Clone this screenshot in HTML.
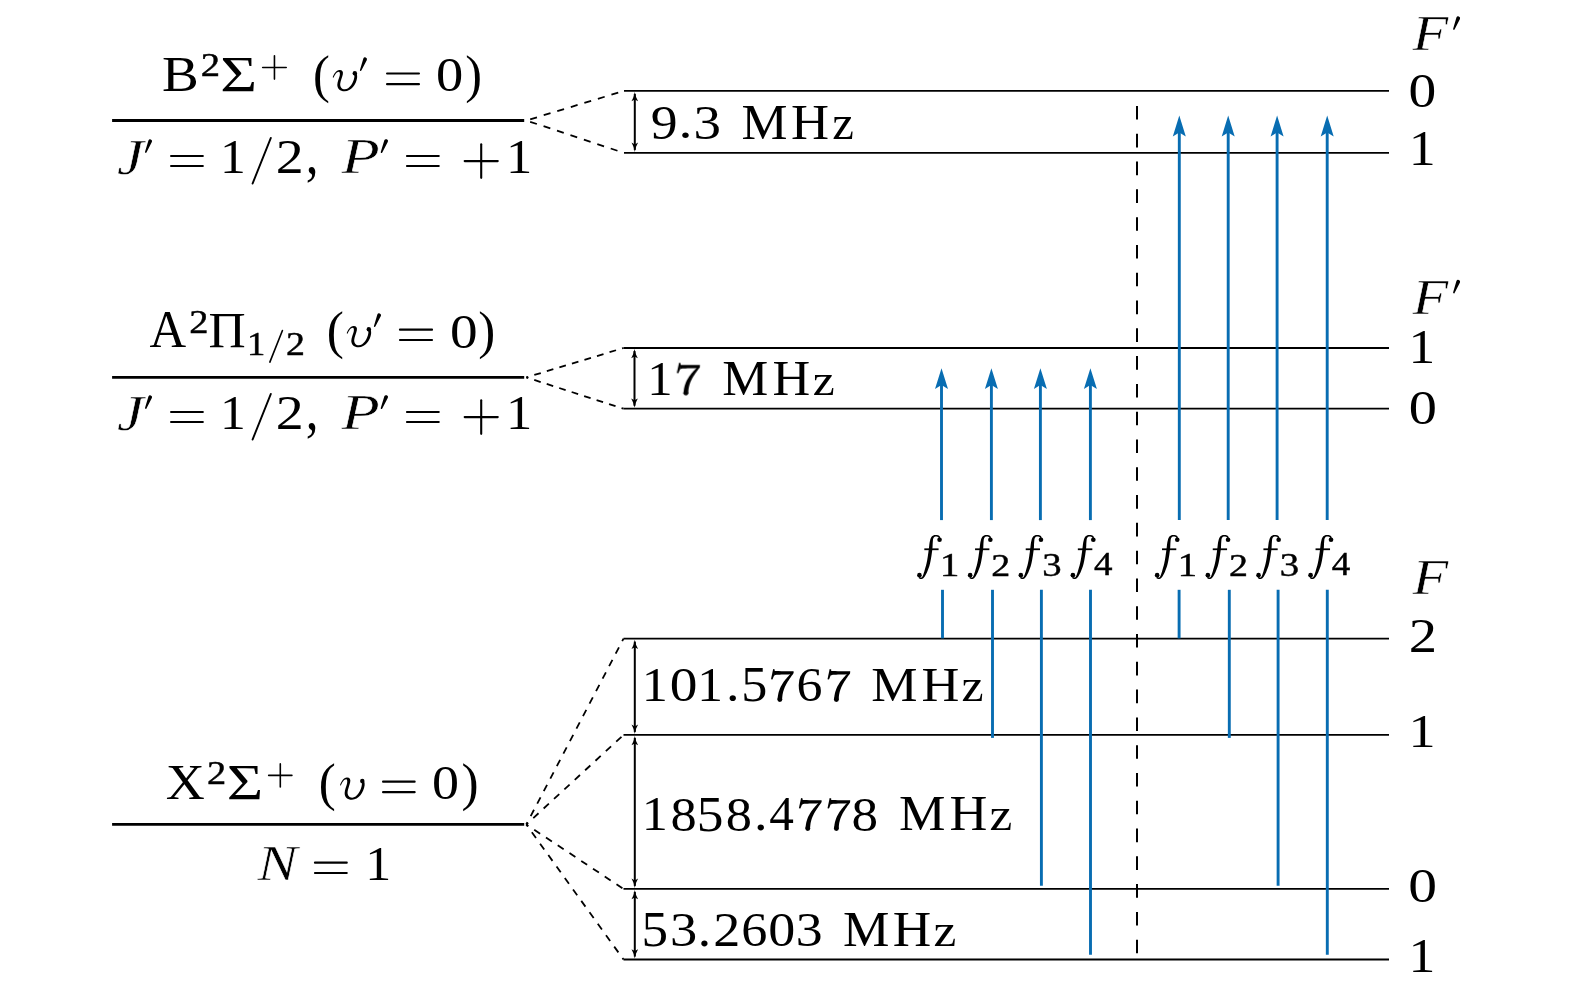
<!DOCTYPE html>
<html><head><meta charset="utf-8"><style>
html,body{margin:0;padding:0;background:#fff;width:1575px;height:994px;overflow:hidden}
svg{display:block}
text.r{font-family:"Liberation Serif",serif;font-style:normal}
text.s{stroke:#000;stroke-width:0.45px}
text.i{font-family:"Liberation Serif",serif;font-style:italic;stroke:#fff;stroke-width:0.5px}
</style></head><body>
<svg width="1575" height="994" viewBox="0 0 1575 994">
<rect width="1575" height="994" fill="#fff"/>
<line x1="624.00" y1="90.90" x2="1389.00" y2="90.90" stroke="#000" stroke-width="1.80"/>
<line x1="624.00" y1="152.90" x2="1389.00" y2="152.90" stroke="#000" stroke-width="1.80"/>
<line x1="623.50" y1="348.00" x2="1389.00" y2="348.00" stroke="#000" stroke-width="1.80"/>
<line x1="623.50" y1="408.70" x2="1389.00" y2="408.70" stroke="#000" stroke-width="1.80"/>
<line x1="623.50" y1="638.70" x2="1389.00" y2="638.70" stroke="#000" stroke-width="1.80"/>
<line x1="623.50" y1="734.90" x2="1389.00" y2="734.90" stroke="#000" stroke-width="1.80"/>
<line x1="623.50" y1="888.90" x2="1389.00" y2="888.90" stroke="#000" stroke-width="1.80"/>
<line x1="623.50" y1="959.50" x2="1389.00" y2="959.50" stroke="#000" stroke-width="1.80"/>
<line x1="112.10" y1="120.50" x2="524.20" y2="120.50" stroke="#000" stroke-width="2.90"/>
<line x1="112.10" y1="377.40" x2="524.20" y2="377.40" stroke="#000" stroke-width="2.90"/>
<line x1="112.10" y1="824.40" x2="524.20" y2="824.40" stroke="#000" stroke-width="2.90"/>
<line x1="526.30" y1="120.50" x2="624.00" y2="90.90" stroke="#000" stroke-width="1.80" stroke-dasharray="7.1 7.05" stroke-dashoffset="10.10"/>
<line x1="526.30" y1="120.50" x2="624.00" y2="152.90" stroke="#000" stroke-width="1.80" stroke-dasharray="7.1 7.05" stroke-dashoffset="10.10"/>
<line x1="526.30" y1="377.40" x2="623.50" y2="348.00" stroke="#000" stroke-width="1.80" stroke-dasharray="6.8 6.3" stroke-dashoffset="4.75"/>
<line x1="526.30" y1="377.40" x2="623.50" y2="408.70" stroke="#000" stroke-width="1.80" stroke-dasharray="6.8 6.3" stroke-dashoffset="4.75"/>
<line x1="526.30" y1="824.50" x2="623.50" y2="638.70" stroke="#000" stroke-width="1.80" stroke-dasharray="7.1 7.0" stroke-dashoffset="4.60"/>
<line x1="526.30" y1="824.50" x2="623.50" y2="734.90" stroke="#000" stroke-width="1.80" stroke-dasharray="7.1 7.0" stroke-dashoffset="4.60"/>
<line x1="526.30" y1="824.50" x2="623.50" y2="888.90" stroke="#000" stroke-width="1.80" stroke-dasharray="7.1 7.0" stroke-dashoffset="4.60"/>
<line x1="526.30" y1="824.50" x2="623.50" y2="959.50" stroke="#000" stroke-width="1.80" stroke-dasharray="7.1 7.0" stroke-dashoffset="4.60"/>
<line x1="1137.00" y1="106.00" x2="1137.00" y2="953.50" stroke="#000" stroke-width="2.00" stroke-dasharray="13.6 14.19"/>
<line x1="634.80" y1="93.90" x2="634.80" y2="149.90" stroke="#000" stroke-width="2.00"/>
<path d="M634.80 91.90 Q634.00 97.02 631.50 101.20 L634.80 99.40 L638.10 101.20 Q635.60 97.02 634.80 91.90 Z" fill="#000"/>
<path d="M634.80 151.90 Q634.00 146.78 631.50 142.60 L634.80 144.40 L638.10 142.60 Q635.60 146.78 634.80 151.90 Z" fill="#000"/>
<line x1="634.50" y1="351.00" x2="634.50" y2="405.70" stroke="#000" stroke-width="2.00"/>
<path d="M634.50 349.00 Q633.70 354.12 631.20 358.30 L634.50 356.50 L637.80 358.30 Q635.30 354.12 634.50 349.00 Z" fill="#000"/>
<path d="M634.50 407.70 Q633.70 402.58 631.20 398.40 L634.50 400.20 L637.80 398.40 Q635.30 402.58 634.50 407.70 Z" fill="#000"/>
<line x1="634.80" y1="641.70" x2="634.80" y2="731.90" stroke="#000" stroke-width="2.00"/>
<path d="M634.80 639.70 Q634.00 644.82 631.50 649.00 L634.80 647.20 L638.10 649.00 Q635.60 644.82 634.80 639.70 Z" fill="#000"/>
<path d="M634.80 733.90 Q634.00 728.78 631.50 724.60 L634.80 726.40 L638.10 724.60 Q635.60 728.78 634.80 733.90 Z" fill="#000"/>
<line x1="634.80" y1="737.90" x2="634.80" y2="885.90" stroke="#000" stroke-width="2.00"/>
<path d="M634.80 735.90 Q634.00 741.01 631.50 745.20 L634.80 743.40 L638.10 745.20 Q635.60 741.01 634.80 735.90 Z" fill="#000"/>
<path d="M634.80 887.90 Q634.00 882.78 631.50 878.60 L634.80 880.40 L638.10 878.60 Q635.60 882.78 634.80 887.90 Z" fill="#000"/>
<line x1="634.80" y1="891.90" x2="634.80" y2="956.50" stroke="#000" stroke-width="2.00"/>
<path d="M634.80 889.90 Q634.00 895.01 631.50 899.20 L634.80 897.40 L638.10 899.20 Q635.60 895.01 634.80 889.90 Z" fill="#000"/>
<path d="M634.80 958.50 Q634.00 953.38 631.50 949.20 L634.80 951.00 L638.10 949.20 Q635.60 953.38 634.80 958.50 Z" fill="#000"/>
<line x1="941.50" y1="520.10" x2="941.50" y2="382.20" stroke="#086db2" stroke-width="2.90"/>
<path d="M941.50 368.20 L935.00 389.10 L941.50 385.10 L948.00 389.10 Z" fill="#086db2"/>
<line x1="942.50" y1="589.80" x2="942.50" y2="638.40" stroke="#086db2" stroke-width="2.90"/>
<line x1="991.40" y1="520.10" x2="991.40" y2="382.20" stroke="#086db2" stroke-width="2.90"/>
<path d="M991.40 368.20 L984.90 389.10 L991.40 385.10 L997.90 389.10 Z" fill="#086db2"/>
<line x1="992.50" y1="589.80" x2="992.50" y2="737.90" stroke="#086db2" stroke-width="2.90"/>
<line x1="1040.40" y1="520.10" x2="1040.40" y2="382.20" stroke="#086db2" stroke-width="2.90"/>
<path d="M1040.40 368.20 L1033.90 389.10 L1040.40 385.10 L1046.90 389.10 Z" fill="#086db2"/>
<line x1="1041.40" y1="589.80" x2="1041.40" y2="885.80" stroke="#086db2" stroke-width="2.90"/>
<line x1="1090.40" y1="520.10" x2="1090.40" y2="382.20" stroke="#086db2" stroke-width="2.90"/>
<path d="M1090.40 368.20 L1083.90 389.10 L1090.40 385.10 L1096.90 389.10 Z" fill="#086db2"/>
<line x1="1090.50" y1="589.80" x2="1090.50" y2="954.70" stroke="#086db2" stroke-width="2.90"/>
<line x1="1179.30" y1="520.10" x2="1179.30" y2="129.60" stroke="#086db2" stroke-width="2.90"/>
<path d="M1179.30 115.60 L1172.80 136.50 L1179.30 132.50 L1185.80 136.50 Z" fill="#086db2"/>
<line x1="1179.10" y1="589.80" x2="1179.10" y2="638.40" stroke="#086db2" stroke-width="2.90"/>
<line x1="1228.20" y1="520.10" x2="1228.20" y2="129.60" stroke="#086db2" stroke-width="2.90"/>
<path d="M1228.20 115.60 L1221.70 136.50 L1228.20 132.50 L1234.70 136.50 Z" fill="#086db2"/>
<line x1="1229.30" y1="589.80" x2="1229.30" y2="737.90" stroke="#086db2" stroke-width="2.90"/>
<line x1="1277.10" y1="520.10" x2="1277.10" y2="129.60" stroke="#086db2" stroke-width="2.90"/>
<path d="M1277.10 115.60 L1270.60 136.50 L1277.10 132.50 L1283.60 136.50 Z" fill="#086db2"/>
<line x1="1278.10" y1="589.80" x2="1278.10" y2="885.80" stroke="#086db2" stroke-width="2.90"/>
<line x1="1327.20" y1="520.10" x2="1327.20" y2="129.60" stroke="#086db2" stroke-width="2.90"/>
<path d="M1327.20 115.60 L1320.70 136.50 L1327.20 132.50 L1333.70 136.50 Z" fill="#086db2"/>
<line x1="1327.30" y1="589.80" x2="1327.30" y2="954.70" stroke="#086db2" stroke-width="2.90"/>
<g fill="#000" style="will-change:transform">
<text class="r" transform="translate(162.01 91.15) scale(1.0827 1)" font-size="50.93">B</text>
<text class="r s" transform="translate(200.70 76.10) scale(1.1179 1)" font-size="34.59">2</text>
<text class="r" transform="translate(220.23 91.00) scale(1.2490 1)" font-size="50.70">Σ</text>
<text class="r" transform="translate(312.88 91.73) scale(0.9562 1)" font-size="52.94">(</text>
<text class="r" transform="translate(435.92 91.42) scale(1.1145 1)" font-size="48.90">0</text>
<text class="r" transform="translate(465.18 91.73) scale(0.9488 1)" font-size="52.94">)</text>
<text class="i" transform="translate(116.89 173.50) scale(1.1707 1)" font-size="51.31">J</text>
<text class="r" transform="translate(219.96 173.00) scale(1.0732 1)" font-size="48.17">1</text>
<text class="r" transform="translate(275.84 173.00) scale(1.1634 1)" font-size="48.03">2</text>
<text class="r" transform="translate(305.76 172.60) scale(0.8348 1)" font-size="61.13">,</text>
<text class="i" transform="translate(341.44 172.80) scale(1.2464 1)" font-size="50.25">P</text>
<text class="r" transform="translate(506.08 173.00) scale(1.0909 1)" font-size="48.17">1</text>
<text class="i" transform="translate(116.89 429.50) scale(1.1707 1)" font-size="51.31">J</text>
<text class="r" transform="translate(219.96 429.00) scale(1.0732 1)" font-size="48.17">1</text>
<text class="r" transform="translate(275.84 429.00) scale(1.1634 1)" font-size="48.03">2</text>
<text class="r" transform="translate(305.76 428.60) scale(0.8348 1)" font-size="61.13">,</text>
<text class="i" transform="translate(341.44 428.80) scale(1.2464 1)" font-size="50.25">P</text>
<text class="r" transform="translate(506.08 429.00) scale(1.0909 1)" font-size="48.17">1</text>
<text class="r" transform="translate(149.60 347.10) scale(0.9772 1)" font-size="51.96">A</text>
<text class="r s" transform="translate(189.21 333.10) scale(1.1156 1)" font-size="34.44">2</text>
<text class="r" transform="translate(208.52 347.10) scale(1.0281 1)" font-size="50.09">Π</text>
<text class="r s" transform="translate(247.08 354.90) scale(1.0656 1)" font-size="34.39">1</text>
<text class="r s" transform="translate(286.03 354.90) scale(1.1258 1)" font-size="33.68">2</text>
<text class="r" transform="translate(326.84 347.63) scale(0.9709 1)" font-size="52.94">(</text>
<text class="r" transform="translate(449.90 347.52) scale(1.1256 1)" font-size="49.05">0</text>
<text class="r" transform="translate(478.36 347.63) scale(0.9635 1)" font-size="52.94">)</text>
<text class="r" transform="translate(165.81 798.90) scale(1.0766 1)" font-size="50.25">X</text>
<text class="r s" transform="translate(207.01 784.10) scale(1.1107 1)" font-size="34.59">2</text>
<text class="r" transform="translate(226.66 798.90) scale(1.2442 1)" font-size="50.25">Σ</text>
<text class="r" transform="translate(318.66 799.60) scale(0.9696 1)" font-size="52.61">(</text>
<text class="r" transform="translate(431.94 799.23) scale(1.1184 1)" font-size="48.31">0</text>
<text class="r" transform="translate(461.44 799.60) scale(0.9770 1)" font-size="52.61">)</text>
<text class="i" transform="translate(257.44 879.90) scale(1.1902 1)" font-size="50.25">N</text>
<text class="r" transform="translate(365.13 879.90) scale(1.0657 1)" font-size="48.78">1</text>
<text class="r" transform="translate(650.67 139.02) scale(1.0892 1)" font-size="49.27">9</text>
<text class="r" transform="translate(678.62 138.14) scale(1.2000 1)" font-size="46.55">.</text>
<text class="r" transform="translate(693.57 139.02) scale(1.1154 1)" font-size="49.27">3</text>
<text class="r" transform="translate(741.51 138.80) scale(1.0329 1)" font-size="50.09">M</text>
<text class="r" transform="translate(791.08 138.80) scale(1.0522 1)" font-size="50.09">H</text>
<text class="r" transform="translate(832.19 138.80) scale(1.0232 1)" font-size="47.71">z</text>
<text class="r" transform="translate(647.23 394.70) scale(1.0489 1)" font-size="48.47">1</text>
<text class="r" transform="translate(722.21 394.70) scale(1.0361 1)" font-size="49.94">M</text>
<text class="r" transform="translate(772.49 394.70) scale(1.0463 1)" font-size="49.94">H</text>
<text class="r" transform="translate(812.67 394.70) scale(1.0997 1)" font-size="45.10">z</text>
<text class="r" transform="translate(641.81 701.30) scale(1.0649 1)" font-size="49.08">1</text>
<text class="r" transform="translate(669.69 701.42) scale(1.1338 1)" font-size="48.90">0</text>
<text class="r" transform="translate(697.18 701.30) scale(1.0476 1)" font-size="49.08">1</text>
<text class="r" transform="translate(726.03 700.60) scale(1.1034 1)" font-size="49.08">.</text>
<text class="r" transform="translate(741.17 701.42) scale(1.0498 1)" font-size="49.66">5</text>
<text class="r" transform="translate(796.57 701.42) scale(1.0579 1)" font-size="49.12">6</text>
<text class="r" transform="translate(871.30 700.60) scale(1.0505 1)" font-size="49.48">M</text>
<text class="r" transform="translate(921.39 700.60) scale(1.0591 1)" font-size="49.48">H</text>
<text class="r" transform="translate(961.56 700.60) scale(1.0793 1)" font-size="46.19">z</text>
<text class="r" transform="translate(641.81 830.40) scale(1.0616 1)" font-size="49.23">1</text>
<text class="r" transform="translate(670.51 830.52) scale(1.0679 1)" font-size="49.05">8</text>
<text class="r" transform="translate(696.70 830.51) scale(1.0716 1)" font-size="49.81">5</text>
<text class="r" transform="translate(725.71 830.52) scale(1.0679 1)" font-size="49.05">8</text>
<text class="r" transform="translate(753.93 829.69) scale(1.0847 1)" font-size="49.93">.</text>
<text class="r" transform="translate(769.24 830.40) scale(0.9977 1)" font-size="49.38">4</text>
<text class="r" transform="translate(851.48 830.52) scale(1.0823 1)" font-size="49.05">8</text>
<text class="r" transform="translate(899.10 830.00) scale(1.0394 1)" font-size="50.25">M</text>
<text class="r" transform="translate(949.39 830.00) scale(1.0430 1)" font-size="50.25">H</text>
<text class="r" transform="translate(989.52 830.00) scale(1.1179 1)" font-size="45.97">z</text>
<text class="r" transform="translate(641.61 946.41) scale(1.0634 1)" font-size="49.96">5</text>
<text class="r" transform="translate(669.89 946.42) scale(1.1023 1)" font-size="49.41">3</text>
<text class="r" transform="translate(697.79 945.78) scale(1.0500 1)" font-size="50.78">.</text>
<text class="r" transform="translate(713.22 946.00) scale(1.1096 1)" font-size="48.78">2</text>
<text class="r" transform="translate(741.36 946.42) scale(1.0563 1)" font-size="49.41">6</text>
<text class="r" transform="translate(768.34 946.42) scale(1.0982 1)" font-size="49.20">0</text>
<text class="r" transform="translate(795.83 946.42) scale(1.0876 1)" font-size="49.41">3</text>
<text class="r" transform="translate(843.10 946.00) scale(1.0300 1)" font-size="50.70">M</text>
<text class="r" transform="translate(892.76 946.00) scale(1.0514 1)" font-size="50.70">H</text>
<text class="r" transform="translate(933.52 946.00) scale(1.1023 1)" font-size="46.62">z</text>
<text class="i" transform="translate(1412.41 50.00) scale(1.1558 1)" font-size="50.70">F</text>
<text class="r" transform="translate(1408.59 106.62) scale(1.1236 1)" font-size="49.35">0</text>
<text class="r" transform="translate(1408.66 165.00) scale(1.0796 1)" font-size="49.99">1</text>
<text class="i" transform="translate(1412.41 313.50) scale(1.1558 1)" font-size="50.70">F</text>
<text class="r" transform="translate(1408.61 363.20) scale(1.0847 1)" font-size="49.23">1</text>
<text class="r" transform="translate(1408.65 424.22) scale(1.1531 1)" font-size="48.90">0</text>
<text class="i" transform="translate(1412.51 593.90) scale(1.1699 1)" font-size="50.09">F</text>
<text class="r" transform="translate(1408.71 651.60) scale(1.1644 1)" font-size="48.63">2</text>
<text class="r" transform="translate(1408.43 746.80) scale(1.1629 1)" font-size="46.66">1</text>
<text class="r" transform="translate(1408.21 902.42) scale(1.1808 1)" font-size="48.75">0</text>
<text class="r" transform="translate(1408.58 972.00) scale(1.1041 1)" font-size="48.62">1</text>
<text class="r s" transform="translate(940.10 575.60) scale(1.1807 1)" font-size="32.72">1</text>
<text class="r s" transform="translate(991.33 575.60) scale(1.1623 1)" font-size="32.62">2</text>
<text class="r s" transform="translate(1042.15 576.16) scale(1.1266 1)" font-size="34.38">3</text>
<text class="r s" transform="translate(1094.08 575.30) scale(1.0971 1)" font-size="33.73">4</text>
<text class="r s" transform="translate(1177.80 575.60) scale(1.1807 1)" font-size="32.72">1</text>
<text class="r s" transform="translate(1229.03 575.60) scale(1.1623 1)" font-size="32.62">2</text>
<text class="r s" transform="translate(1279.85 576.16) scale(1.1266 1)" font-size="34.38">3</text>
<text class="r s" transform="translate(1331.78 575.30) scale(1.0971 1)" font-size="33.73">4</text>
</g>
<line x1="262.70" y1="67.45" x2="286.20" y2="67.45" stroke="#000" stroke-width="1.60" stroke-linecap="round"/>
<line x1="274.45" y1="55.80" x2="274.45" y2="79.10" stroke="#000" stroke-width="1.60" stroke-linecap="round"/>
<g transform="translate(332.20 69.70) scale(1.0000 1.0000)"><path d="M0.5 7.6 C1.8 4.2 4.0 0.4 7.3 0.3 C10.0 0.2 11.3 1.8 10.6 4.8 C10.0 7.4 8.2 11.5 8.0 14.2 C7.8 17.2 9.6 19.6 12.6 19.6 C17.3 19.6 21.6 12.6 22.2 7.0 C22.3 5.6 21.9 4.4 21.2 3.8 L23.4 2.4 C24.6 3.6 25.2 5.6 24.9 8.0 C24.0 14.6 18.9 21.5 12.4 21.5 C7.8 21.5 5.0 18.8 5.1 15.0 C5.2 12.0 6.9 8.6 7.5 6.0 C8.0 3.8 7.6 2.0 6.6 2.0 C4.6 2.0 2.6 4.8 1.4 8.0 Z" fill="#000"/><circle cx="22.6" cy="3.6" r="2.2" fill="#000"/></g>
<path d="M363.34 58.49 L359.95 69.97 A0.75 0.75 0 0 0 361.35 70.53 L366.86 59.91 A1.90 1.90 0 0 0 363.34 58.49 Z" fill="#000"/>
<line x1="387.05" y1="73.45" x2="418.95" y2="73.45" stroke="#000" stroke-width="2.10" stroke-linecap="round"/>
<line x1="387.05" y1="84.15" x2="418.95" y2="84.15" stroke="#000" stroke-width="2.10" stroke-linecap="round"/>
<path d="M148.44 140.39 L145.05 151.87 A0.75 0.75 0 0 0 146.45 152.43 L151.96 141.81 A1.90 1.90 0 0 0 148.44 140.39 Z" fill="#000"/>
<line x1="171.05" y1="155.95" x2="202.85" y2="155.95" stroke="#000" stroke-width="2.10" stroke-linecap="round"/>
<line x1="171.05" y1="165.95" x2="202.85" y2="165.95" stroke="#000" stroke-width="2.10" stroke-linecap="round"/>
<line x1="252.60" y1="183.50" x2="270.80" y2="138.00" stroke="#000" stroke-width="2.00" stroke-linecap="round"/>
<path d="M384.34 140.37 L380.76 152.06 A0.75 0.75 0 0 0 382.14 152.64 L387.86 141.83 A1.90 1.90 0 0 0 384.34 140.37 Z" fill="#000"/>
<line x1="406.95" y1="155.95" x2="438.75" y2="155.95" stroke="#000" stroke-width="2.10" stroke-linecap="round"/>
<line x1="406.95" y1="165.95" x2="438.75" y2="165.95" stroke="#000" stroke-width="2.10" stroke-linecap="round"/>
<line x1="464.65" y1="161.10" x2="497.75" y2="161.10" stroke="#000" stroke-width="2.10" stroke-linecap="round"/>
<line x1="481.20" y1="144.35" x2="481.20" y2="177.85" stroke="#000" stroke-width="2.10" stroke-linecap="round"/>
<path d="M148.44 396.39 L145.05 407.87 A0.75 0.75 0 0 0 146.45 408.43 L151.96 397.81 A1.90 1.90 0 0 0 148.44 396.39 Z" fill="#000"/>
<line x1="171.05" y1="411.95" x2="202.85" y2="411.95" stroke="#000" stroke-width="2.10" stroke-linecap="round"/>
<line x1="171.05" y1="421.95" x2="202.85" y2="421.95" stroke="#000" stroke-width="2.10" stroke-linecap="round"/>
<line x1="252.60" y1="439.50" x2="270.80" y2="394.00" stroke="#000" stroke-width="2.00" stroke-linecap="round"/>
<path d="M384.34 396.37 L380.76 408.06 A0.75 0.75 0 0 0 382.14 408.64 L387.86 397.83 A1.90 1.90 0 0 0 384.34 396.37 Z" fill="#000"/>
<line x1="406.95" y1="411.95" x2="438.75" y2="411.95" stroke="#000" stroke-width="2.10" stroke-linecap="round"/>
<line x1="406.95" y1="421.95" x2="438.75" y2="421.95" stroke="#000" stroke-width="2.10" stroke-linecap="round"/>
<line x1="464.65" y1="417.10" x2="497.75" y2="417.10" stroke="#000" stroke-width="2.10" stroke-linecap="round"/>
<line x1="481.20" y1="400.35" x2="481.20" y2="433.85" stroke="#000" stroke-width="2.10" stroke-linecap="round"/>
<line x1="269.86" y1="362.10" x2="282.44" y2="330.50" stroke="#000" stroke-width="1.60" stroke-linecap="round"/>
<g transform="translate(346.20 325.70) scale(1.0000 1.0000)"><path d="M0.5 7.6 C1.8 4.2 4.0 0.4 7.3 0.3 C10.0 0.2 11.3 1.8 10.6 4.8 C10.0 7.4 8.2 11.5 8.0 14.2 C7.8 17.2 9.6 19.6 12.6 19.6 C17.3 19.6 21.6 12.6 22.2 7.0 C22.3 5.6 21.9 4.4 21.2 3.8 L23.4 2.4 C24.6 3.6 25.2 5.6 24.9 8.0 C24.0 14.6 18.9 21.5 12.4 21.5 C7.8 21.5 5.0 18.8 5.1 15.0 C5.2 12.0 6.9 8.6 7.5 6.0 C8.0 3.8 7.6 2.0 6.6 2.0 C4.6 2.0 2.6 4.8 1.4 8.0 Z" fill="#000"/><circle cx="22.6" cy="3.6" r="2.2" fill="#000"/></g>
<path d="M377.34 314.49 L373.95 325.97 A0.75 0.75 0 0 0 375.35 326.53 L380.86 315.91 A1.90 1.90 0 0 0 377.34 314.49 Z" fill="#000"/>
<line x1="399.95" y1="329.65" x2="432.05" y2="329.65" stroke="#000" stroke-width="2.10" stroke-linecap="round"/>
<line x1="399.95" y1="340.05" x2="432.05" y2="340.05" stroke="#000" stroke-width="2.10" stroke-linecap="round"/>
<line x1="268.70" y1="775.40" x2="291.90" y2="775.40" stroke="#000" stroke-width="1.60" stroke-linecap="round"/>
<line x1="280.30" y1="763.90" x2="280.30" y2="786.90" stroke="#000" stroke-width="1.60" stroke-linecap="round"/>
<g transform="translate(339.50 777.20) scale(1.0079 1.0465)"><path d="M0.5 7.6 C1.8 4.2 4.0 0.4 7.3 0.3 C10.0 0.2 11.3 1.8 10.6 4.8 C10.0 7.4 8.2 11.5 8.0 14.2 C7.8 17.2 9.6 19.6 12.6 19.6 C17.3 19.6 21.6 12.6 22.2 7.0 C22.3 5.6 21.9 4.4 21.2 3.8 L23.4 2.4 C24.6 3.6 25.2 5.6 24.9 8.0 C24.0 14.6 18.9 21.5 12.4 21.5 C7.8 21.5 5.0 18.8 5.1 15.0 C5.2 12.0 6.9 8.6 7.5 6.0 C8.0 3.8 7.6 2.0 6.6 2.0 C4.6 2.0 2.6 4.8 1.4 8.0 Z" fill="#000"/><circle cx="22.6" cy="3.6" r="2.2" fill="#000"/></g>
<line x1="383.05" y1="781.65" x2="414.65" y2="781.65" stroke="#000" stroke-width="2.10" stroke-linecap="round"/>
<line x1="383.05" y1="792.15" x2="414.65" y2="792.15" stroke="#000" stroke-width="2.10" stroke-linecap="round"/>
<line x1="314.95" y1="862.65" x2="346.75" y2="862.65" stroke="#000" stroke-width="2.10" stroke-linecap="round"/>
<line x1="314.95" y1="873.05" x2="346.75" y2="873.05" stroke="#000" stroke-width="2.10" stroke-linecap="round"/>
<g transform="translate(676.70 362.70) scale(1.0043 0.9762)" fill="#000"><path d="M21.90 2.84 L21.45 3.33 L20.84 3.99 L20.11 4.79 L19.32 5.66 L18.52 6.55 L17.77 7.40 L17.05 8.22 L16.31 9.07 L15.56 9.93 L14.80 10.83 L14.07 11.74 L13.37 12.68 L12.72 13.62 L12.08 14.58 L11.48 15.55 L10.90 16.53 L10.36 17.52 L9.87 18.50 L9.41 19.49 L9.00 20.49 L8.64 21.47 L8.31 22.43 L8.02 23.37 L7.76 24.30 L7.53 25.24 L7.35 26.20 L7.20 27.11 L7.09 27.94 L6.99 28.65 L6.92 29.23 L6.85 29.72 L6.82 30.13 L6.80 30.47 L6.80 30.71 L6.80 30.84 L6.80 30.93 L11.40 31.07 L11.40 30.91 L11.41 30.75 L11.41 30.62 L11.42 30.45 L11.44 30.19 L11.48 29.77 L11.54 29.17 L11.61 28.46 L11.69 27.69 L11.78 26.89 L11.90 26.09 L12.04 25.30 L12.22 24.49 L12.43 23.63 L12.66 22.76 L12.92 21.87 L13.21 20.98 L13.53 20.10 L13.90 19.20 L14.30 18.28 L14.75 17.34 L15.22 16.39 L15.72 15.45 L16.23 14.52 L16.77 13.61 L17.34 12.68 L17.96 11.75 L18.58 10.82 L19.22 9.90 L19.83 9.00 L20.46 8.07 L21.13 7.09 L21.79 6.13 L22.41 5.25 L22.93 4.50 L23.30 3.96 Z"/><circle cx="9.1" cy="31.1" r="2.5"/><path d="M2.9 2.0 C6 2.5 9 2.4 23.2 2.3 L22.4 5.4 C16 5.6 9 5.8 5.8 5.9 C4.8 6.0 4.0 6.3 3.4 6.9 Z"/><path d="M2.3 0.0 L3.9 0.6 L3.6 6.0 L1.6 10.7 L0.1 10.5 Z"/></g>
<g transform="translate(770.90 668.90) scale(0.9828 0.9821)" fill="#000"><path d="M21.90 2.84 L21.45 3.33 L20.84 3.99 L20.11 4.79 L19.32 5.66 L18.52 6.55 L17.77 7.40 L17.05 8.22 L16.31 9.07 L15.56 9.93 L14.80 10.83 L14.07 11.74 L13.37 12.68 L12.72 13.62 L12.08 14.58 L11.48 15.55 L10.90 16.53 L10.36 17.52 L9.87 18.50 L9.41 19.49 L9.00 20.49 L8.64 21.47 L8.31 22.43 L8.02 23.37 L7.76 24.30 L7.53 25.24 L7.35 26.20 L7.20 27.11 L7.09 27.94 L6.99 28.65 L6.92 29.23 L6.85 29.72 L6.82 30.13 L6.80 30.47 L6.80 30.71 L6.80 30.84 L6.80 30.93 L11.40 31.07 L11.40 30.91 L11.41 30.75 L11.41 30.62 L11.42 30.45 L11.44 30.19 L11.48 29.77 L11.54 29.17 L11.61 28.46 L11.69 27.69 L11.78 26.89 L11.90 26.09 L12.04 25.30 L12.22 24.49 L12.43 23.63 L12.66 22.76 L12.92 21.87 L13.21 20.98 L13.53 20.10 L13.90 19.20 L14.30 18.28 L14.75 17.34 L15.22 16.39 L15.72 15.45 L16.23 14.52 L16.77 13.61 L17.34 12.68 L17.96 11.75 L18.58 10.82 L19.22 9.90 L19.83 9.00 L20.46 8.07 L21.13 7.09 L21.79 6.13 L22.41 5.25 L22.93 4.50 L23.30 3.96 Z"/><circle cx="9.1" cy="31.1" r="2.5"/><path d="M2.9 2.0 C6 2.5 9 2.4 23.2 2.3 L22.4 5.4 C16 5.6 9 5.8 5.8 5.9 C4.8 6.0 4.0 6.3 3.4 6.9 Z"/><path d="M2.3 0.0 L3.9 0.6 L3.6 6.0 L1.6 10.7 L0.1 10.5 Z"/></g>
<g transform="translate(827.40 668.90) scale(0.9871 0.9821)" fill="#000"><path d="M21.90 2.84 L21.45 3.33 L20.84 3.99 L20.11 4.79 L19.32 5.66 L18.52 6.55 L17.77 7.40 L17.05 8.22 L16.31 9.07 L15.56 9.93 L14.80 10.83 L14.07 11.74 L13.37 12.68 L12.72 13.62 L12.08 14.58 L11.48 15.55 L10.90 16.53 L10.36 17.52 L9.87 18.50 L9.41 19.49 L9.00 20.49 L8.64 21.47 L8.31 22.43 L8.02 23.37 L7.76 24.30 L7.53 25.24 L7.35 26.20 L7.20 27.11 L7.09 27.94 L6.99 28.65 L6.92 29.23 L6.85 29.72 L6.82 30.13 L6.80 30.47 L6.80 30.71 L6.80 30.84 L6.80 30.93 L11.40 31.07 L11.40 30.91 L11.41 30.75 L11.41 30.62 L11.42 30.45 L11.44 30.19 L11.48 29.77 L11.54 29.17 L11.61 28.46 L11.69 27.69 L11.78 26.89 L11.90 26.09 L12.04 25.30 L12.22 24.49 L12.43 23.63 L12.66 22.76 L12.92 21.87 L13.21 20.98 L13.53 20.10 L13.90 19.20 L14.30 18.28 L14.75 17.34 L15.22 16.39 L15.72 15.45 L16.23 14.52 L16.77 13.61 L17.34 12.68 L17.96 11.75 L18.58 10.82 L19.22 9.90 L19.83 9.00 L20.46 8.07 L21.13 7.09 L21.79 6.13 L22.41 5.25 L22.93 4.50 L23.30 3.96 Z"/><circle cx="9.1" cy="31.1" r="2.5"/><path d="M2.9 2.0 C6 2.5 9 2.4 23.2 2.3 L22.4 5.4 C16 5.6 9 5.8 5.8 5.9 C4.8 6.0 4.0 6.3 3.4 6.9 Z"/><path d="M2.3 0.0 L3.9 0.6 L3.6 6.0 L1.6 10.7 L0.1 10.5 Z"/></g>
<g transform="translate(798.80 797.90) scale(0.9871 0.9851)" fill="#000"><path d="M21.90 2.84 L21.45 3.33 L20.84 3.99 L20.11 4.79 L19.32 5.66 L18.52 6.55 L17.77 7.40 L17.05 8.22 L16.31 9.07 L15.56 9.93 L14.80 10.83 L14.07 11.74 L13.37 12.68 L12.72 13.62 L12.08 14.58 L11.48 15.55 L10.90 16.53 L10.36 17.52 L9.87 18.50 L9.41 19.49 L9.00 20.49 L8.64 21.47 L8.31 22.43 L8.02 23.37 L7.76 24.30 L7.53 25.24 L7.35 26.20 L7.20 27.11 L7.09 27.94 L6.99 28.65 L6.92 29.23 L6.85 29.72 L6.82 30.13 L6.80 30.47 L6.80 30.71 L6.80 30.84 L6.80 30.93 L11.40 31.07 L11.40 30.91 L11.41 30.75 L11.41 30.62 L11.42 30.45 L11.44 30.19 L11.48 29.77 L11.54 29.17 L11.61 28.46 L11.69 27.69 L11.78 26.89 L11.90 26.09 L12.04 25.30 L12.22 24.49 L12.43 23.63 L12.66 22.76 L12.92 21.87 L13.21 20.98 L13.53 20.10 L13.90 19.20 L14.30 18.28 L14.75 17.34 L15.22 16.39 L15.72 15.45 L16.23 14.52 L16.77 13.61 L17.34 12.68 L17.96 11.75 L18.58 10.82 L19.22 9.90 L19.83 9.00 L20.46 8.07 L21.13 7.09 L21.79 6.13 L22.41 5.25 L22.93 4.50 L23.30 3.96 Z"/><circle cx="9.1" cy="31.1" r="2.5"/><path d="M2.9 2.0 C6 2.5 9 2.4 23.2 2.3 L22.4 5.4 C16 5.6 9 5.8 5.8 5.9 C4.8 6.0 4.0 6.3 3.4 6.9 Z"/><path d="M2.3 0.0 L3.9 0.6 L3.6 6.0 L1.6 10.7 L0.1 10.5 Z"/></g>
<g transform="translate(827.40 797.90) scale(0.9871 0.9851)" fill="#000"><path d="M21.90 2.84 L21.45 3.33 L20.84 3.99 L20.11 4.79 L19.32 5.66 L18.52 6.55 L17.77 7.40 L17.05 8.22 L16.31 9.07 L15.56 9.93 L14.80 10.83 L14.07 11.74 L13.37 12.68 L12.72 13.62 L12.08 14.58 L11.48 15.55 L10.90 16.53 L10.36 17.52 L9.87 18.50 L9.41 19.49 L9.00 20.49 L8.64 21.47 L8.31 22.43 L8.02 23.37 L7.76 24.30 L7.53 25.24 L7.35 26.20 L7.20 27.11 L7.09 27.94 L6.99 28.65 L6.92 29.23 L6.85 29.72 L6.82 30.13 L6.80 30.47 L6.80 30.71 L6.80 30.84 L6.80 30.93 L11.40 31.07 L11.40 30.91 L11.41 30.75 L11.41 30.62 L11.42 30.45 L11.44 30.19 L11.48 29.77 L11.54 29.17 L11.61 28.46 L11.69 27.69 L11.78 26.89 L11.90 26.09 L12.04 25.30 L12.22 24.49 L12.43 23.63 L12.66 22.76 L12.92 21.87 L13.21 20.98 L13.53 20.10 L13.90 19.20 L14.30 18.28 L14.75 17.34 L15.22 16.39 L15.72 15.45 L16.23 14.52 L16.77 13.61 L17.34 12.68 L17.96 11.75 L18.58 10.82 L19.22 9.90 L19.83 9.00 L20.46 8.07 L21.13 7.09 L21.79 6.13 L22.41 5.25 L22.93 4.50 L23.30 3.96 Z"/><circle cx="9.1" cy="31.1" r="2.5"/><path d="M2.9 2.0 C6 2.5 9 2.4 23.2 2.3 L22.4 5.4 C16 5.6 9 5.8 5.8 5.9 C4.8 6.0 4.0 6.3 3.4 6.9 Z"/><path d="M2.3 0.0 L3.9 0.6 L3.6 6.0 L1.6 10.7 L0.1 10.5 Z"/></g>
<path d="M1456.43 17.50 L1453.15 28.87 A0.75 0.75 0 0 0 1454.55 29.43 L1459.97 18.90 A1.90 1.90 0 0 0 1456.43 17.50 Z" fill="#000"/>
<path d="M1456.43 281.00 L1453.15 292.37 A0.75 0.75 0 0 0 1454.55 292.93 L1459.97 282.40 A1.90 1.90 0 0 0 1456.43 281.00 Z" fill="#000"/>
<g transform="translate(916.90 535.40) scale(0.9768 0.9909)" fill="#000"><path d="M24.08 2.17 L23.97 2.01 L23.82 1.75 L23.62 1.41 L23.37 1.04 L23.05 0.66 L22.65 0.34 L22.22 0.10 L21.77 -0.09 L21.30 -0.24 L20.81 -0.36 L20.32 -0.45 L19.84 -0.50 L19.37 -0.52 L18.88 -0.52 L18.37 -0.48 L17.85 -0.39 L17.32 -0.24 L16.81 -0.01 L16.35 0.25 L15.91 0.57 L15.47 0.94 L15.06 1.40 L14.68 1.92 L14.34 2.54 L14.04 3.24 L13.78 3.99 L13.56 4.79 L13.36 5.61 L13.18 6.45 L13.01 7.29 L12.87 8.16 L12.75 9.03 L12.65 9.91 L12.55 10.81 L12.44 11.76 L12.31 12.80 L12.16 13.97 L11.99 15.27 L11.81 16.63 L11.62 18.02 L11.42 19.40 L11.22 20.72 L11.02 22.00 L10.81 23.27 L10.60 24.53 L10.38 25.75 L10.14 26.94 L9.90 28.09 L9.63 29.21 L9.35 30.31 L9.04 31.40 L8.73 32.47 L8.43 33.50 L8.14 34.49 L7.86 35.44 L7.60 36.35 L7.34 37.23 L7.08 38.05 L6.83 38.80 L6.57 39.48 L6.31 40.11 L6.05 40.69 L5.79 41.20 L5.54 41.63 L5.29 41.98 L5.08 42.23 L4.90 42.37 L4.71 42.45 L4.51 42.48 L4.27 42.48 L4.01 42.45 L3.79 42.42 L3.63 42.38 L3.45 42.29 L3.24 42.15 L3.03 41.99 L2.82 41.83 L2.66 41.71 L1.74 42.89 L1.87 43.00 L2.05 43.16 L2.31 43.38 L2.62 43.62 L3.00 43.83 L3.41 43.98 L3.79 44.05 L4.18 44.09 L4.62 44.09 L5.11 44.03 L5.62 43.86 L6.12 43.57 L6.57 43.20 L7.00 42.78 L7.41 42.29 L7.82 41.75 L8.22 41.16 L8.63 40.52 L9.04 39.81 L9.45 39.04 L9.86 38.22 L10.27 37.36 L10.67 36.45 L11.06 35.51 L11.45 34.53 L11.84 33.50 L12.23 32.41 L12.61 31.28 L12.97 30.11 L13.30 28.91 L13.60 27.69 L13.87 26.44 L14.12 25.16 L14.34 23.87 L14.56 22.58 L14.78 21.28 L14.99 19.94 L15.20 18.53 L15.41 17.12 L15.59 15.73 L15.75 14.42 L15.89 13.20 L15.99 12.10 L16.04 11.08 L16.08 10.16 L16.11 9.30 L16.14 8.50 L16.19 7.71 L16.25 6.88 L16.31 6.07 L16.38 5.30 L16.45 4.59 L16.55 3.98 L16.66 3.46 L16.80 3.04 L16.95 2.67 L17.13 2.36 L17.32 2.08 L17.55 1.83 L17.79 1.61 L18.04 1.44 L18.33 1.31 L18.66 1.21 L19.02 1.15 L19.40 1.11 L19.76 1.10 L20.12 1.12 L20.49 1.18 L20.86 1.28 L21.21 1.40 L21.52 1.54 L21.75 1.66 L21.92 1.80 L22.10 2.01 L22.28 2.27 L22.44 2.55 L22.60 2.82 L22.72 3.03 Z"/><circle cx="23.2" cy="4.4" r="2.35"/><circle cx="2.6" cy="40.1" r="2.35"/><rect x="7.6" y="13.1" width="14.6" height="1.8"/></g>
<g transform="translate(967.60 535.40) scale(0.9807 0.9909)" fill="#000"><path d="M24.08 2.17 L23.97 2.01 L23.82 1.75 L23.62 1.41 L23.37 1.04 L23.05 0.66 L22.65 0.34 L22.22 0.10 L21.77 -0.09 L21.30 -0.24 L20.81 -0.36 L20.32 -0.45 L19.84 -0.50 L19.37 -0.52 L18.88 -0.52 L18.37 -0.48 L17.85 -0.39 L17.32 -0.24 L16.81 -0.01 L16.35 0.25 L15.91 0.57 L15.47 0.94 L15.06 1.40 L14.68 1.92 L14.34 2.54 L14.04 3.24 L13.78 3.99 L13.56 4.79 L13.36 5.61 L13.18 6.45 L13.01 7.29 L12.87 8.16 L12.75 9.03 L12.65 9.91 L12.55 10.81 L12.44 11.76 L12.31 12.80 L12.16 13.97 L11.99 15.27 L11.81 16.63 L11.62 18.02 L11.42 19.40 L11.22 20.72 L11.02 22.00 L10.81 23.27 L10.60 24.53 L10.38 25.75 L10.14 26.94 L9.90 28.09 L9.63 29.21 L9.35 30.31 L9.04 31.40 L8.73 32.47 L8.43 33.50 L8.14 34.49 L7.86 35.44 L7.60 36.35 L7.34 37.23 L7.08 38.05 L6.83 38.80 L6.57 39.48 L6.31 40.11 L6.05 40.69 L5.79 41.20 L5.54 41.63 L5.29 41.98 L5.08 42.23 L4.90 42.37 L4.71 42.45 L4.51 42.48 L4.27 42.48 L4.01 42.45 L3.79 42.42 L3.63 42.38 L3.45 42.29 L3.24 42.15 L3.03 41.99 L2.82 41.83 L2.66 41.71 L1.74 42.89 L1.87 43.00 L2.05 43.16 L2.31 43.38 L2.62 43.62 L3.00 43.83 L3.41 43.98 L3.79 44.05 L4.18 44.09 L4.62 44.09 L5.11 44.03 L5.62 43.86 L6.12 43.57 L6.57 43.20 L7.00 42.78 L7.41 42.29 L7.82 41.75 L8.22 41.16 L8.63 40.52 L9.04 39.81 L9.45 39.04 L9.86 38.22 L10.27 37.36 L10.67 36.45 L11.06 35.51 L11.45 34.53 L11.84 33.50 L12.23 32.41 L12.61 31.28 L12.97 30.11 L13.30 28.91 L13.60 27.69 L13.87 26.44 L14.12 25.16 L14.34 23.87 L14.56 22.58 L14.78 21.28 L14.99 19.94 L15.20 18.53 L15.41 17.12 L15.59 15.73 L15.75 14.42 L15.89 13.20 L15.99 12.10 L16.04 11.08 L16.08 10.16 L16.11 9.30 L16.14 8.50 L16.19 7.71 L16.25 6.88 L16.31 6.07 L16.38 5.30 L16.45 4.59 L16.55 3.98 L16.66 3.46 L16.80 3.04 L16.95 2.67 L17.13 2.36 L17.32 2.08 L17.55 1.83 L17.79 1.61 L18.04 1.44 L18.33 1.31 L18.66 1.21 L19.02 1.15 L19.40 1.11 L19.76 1.10 L20.12 1.12 L20.49 1.18 L20.86 1.28 L21.21 1.40 L21.52 1.54 L21.75 1.66 L21.92 1.80 L22.10 2.01 L22.28 2.27 L22.44 2.55 L22.60 2.82 L22.72 3.03 Z"/><circle cx="23.2" cy="4.4" r="2.35"/><circle cx="2.6" cy="40.1" r="2.35"/><rect x="7.6" y="13.1" width="14.6" height="1.8"/></g>
<g transform="translate(1018.30 535.40) scale(0.9768 0.9909)" fill="#000"><path d="M24.08 2.17 L23.97 2.01 L23.82 1.75 L23.62 1.41 L23.37 1.04 L23.05 0.66 L22.65 0.34 L22.22 0.10 L21.77 -0.09 L21.30 -0.24 L20.81 -0.36 L20.32 -0.45 L19.84 -0.50 L19.37 -0.52 L18.88 -0.52 L18.37 -0.48 L17.85 -0.39 L17.32 -0.24 L16.81 -0.01 L16.35 0.25 L15.91 0.57 L15.47 0.94 L15.06 1.40 L14.68 1.92 L14.34 2.54 L14.04 3.24 L13.78 3.99 L13.56 4.79 L13.36 5.61 L13.18 6.45 L13.01 7.29 L12.87 8.16 L12.75 9.03 L12.65 9.91 L12.55 10.81 L12.44 11.76 L12.31 12.80 L12.16 13.97 L11.99 15.27 L11.81 16.63 L11.62 18.02 L11.42 19.40 L11.22 20.72 L11.02 22.00 L10.81 23.27 L10.60 24.53 L10.38 25.75 L10.14 26.94 L9.90 28.09 L9.63 29.21 L9.35 30.31 L9.04 31.40 L8.73 32.47 L8.43 33.50 L8.14 34.49 L7.86 35.44 L7.60 36.35 L7.34 37.23 L7.08 38.05 L6.83 38.80 L6.57 39.48 L6.31 40.11 L6.05 40.69 L5.79 41.20 L5.54 41.63 L5.29 41.98 L5.08 42.23 L4.90 42.37 L4.71 42.45 L4.51 42.48 L4.27 42.48 L4.01 42.45 L3.79 42.42 L3.63 42.38 L3.45 42.29 L3.24 42.15 L3.03 41.99 L2.82 41.83 L2.66 41.71 L1.74 42.89 L1.87 43.00 L2.05 43.16 L2.31 43.38 L2.62 43.62 L3.00 43.83 L3.41 43.98 L3.79 44.05 L4.18 44.09 L4.62 44.09 L5.11 44.03 L5.62 43.86 L6.12 43.57 L6.57 43.20 L7.00 42.78 L7.41 42.29 L7.82 41.75 L8.22 41.16 L8.63 40.52 L9.04 39.81 L9.45 39.04 L9.86 38.22 L10.27 37.36 L10.67 36.45 L11.06 35.51 L11.45 34.53 L11.84 33.50 L12.23 32.41 L12.61 31.28 L12.97 30.11 L13.30 28.91 L13.60 27.69 L13.87 26.44 L14.12 25.16 L14.34 23.87 L14.56 22.58 L14.78 21.28 L14.99 19.94 L15.20 18.53 L15.41 17.12 L15.59 15.73 L15.75 14.42 L15.89 13.20 L15.99 12.10 L16.04 11.08 L16.08 10.16 L16.11 9.30 L16.14 8.50 L16.19 7.71 L16.25 6.88 L16.31 6.07 L16.38 5.30 L16.45 4.59 L16.55 3.98 L16.66 3.46 L16.80 3.04 L16.95 2.67 L17.13 2.36 L17.32 2.08 L17.55 1.83 L17.79 1.61 L18.04 1.44 L18.33 1.31 L18.66 1.21 L19.02 1.15 L19.40 1.11 L19.76 1.10 L20.12 1.12 L20.49 1.18 L20.86 1.28 L21.21 1.40 L21.52 1.54 L21.75 1.66 L21.92 1.80 L22.10 2.01 L22.28 2.27 L22.44 2.55 L22.60 2.82 L22.72 3.03 Z"/><circle cx="23.2" cy="4.4" r="2.35"/><circle cx="2.6" cy="40.1" r="2.35"/><rect x="7.6" y="13.1" width="14.6" height="1.8"/></g>
<g transform="translate(1070.30 535.40) scale(0.9923 0.9909)" fill="#000"><path d="M24.08 2.17 L23.97 2.01 L23.82 1.75 L23.62 1.41 L23.37 1.04 L23.05 0.66 L22.65 0.34 L22.22 0.10 L21.77 -0.09 L21.30 -0.24 L20.81 -0.36 L20.32 -0.45 L19.84 -0.50 L19.37 -0.52 L18.88 -0.52 L18.37 -0.48 L17.85 -0.39 L17.32 -0.24 L16.81 -0.01 L16.35 0.25 L15.91 0.57 L15.47 0.94 L15.06 1.40 L14.68 1.92 L14.34 2.54 L14.04 3.24 L13.78 3.99 L13.56 4.79 L13.36 5.61 L13.18 6.45 L13.01 7.29 L12.87 8.16 L12.75 9.03 L12.65 9.91 L12.55 10.81 L12.44 11.76 L12.31 12.80 L12.16 13.97 L11.99 15.27 L11.81 16.63 L11.62 18.02 L11.42 19.40 L11.22 20.72 L11.02 22.00 L10.81 23.27 L10.60 24.53 L10.38 25.75 L10.14 26.94 L9.90 28.09 L9.63 29.21 L9.35 30.31 L9.04 31.40 L8.73 32.47 L8.43 33.50 L8.14 34.49 L7.86 35.44 L7.60 36.35 L7.34 37.23 L7.08 38.05 L6.83 38.80 L6.57 39.48 L6.31 40.11 L6.05 40.69 L5.79 41.20 L5.54 41.63 L5.29 41.98 L5.08 42.23 L4.90 42.37 L4.71 42.45 L4.51 42.48 L4.27 42.48 L4.01 42.45 L3.79 42.42 L3.63 42.38 L3.45 42.29 L3.24 42.15 L3.03 41.99 L2.82 41.83 L2.66 41.71 L1.74 42.89 L1.87 43.00 L2.05 43.16 L2.31 43.38 L2.62 43.62 L3.00 43.83 L3.41 43.98 L3.79 44.05 L4.18 44.09 L4.62 44.09 L5.11 44.03 L5.62 43.86 L6.12 43.57 L6.57 43.20 L7.00 42.78 L7.41 42.29 L7.82 41.75 L8.22 41.16 L8.63 40.52 L9.04 39.81 L9.45 39.04 L9.86 38.22 L10.27 37.36 L10.67 36.45 L11.06 35.51 L11.45 34.53 L11.84 33.50 L12.23 32.41 L12.61 31.28 L12.97 30.11 L13.30 28.91 L13.60 27.69 L13.87 26.44 L14.12 25.16 L14.34 23.87 L14.56 22.58 L14.78 21.28 L14.99 19.94 L15.20 18.53 L15.41 17.12 L15.59 15.73 L15.75 14.42 L15.89 13.20 L15.99 12.10 L16.04 11.08 L16.08 10.16 L16.11 9.30 L16.14 8.50 L16.19 7.71 L16.25 6.88 L16.31 6.07 L16.38 5.30 L16.45 4.59 L16.55 3.98 L16.66 3.46 L16.80 3.04 L16.95 2.67 L17.13 2.36 L17.32 2.08 L17.55 1.83 L17.79 1.61 L18.04 1.44 L18.33 1.31 L18.66 1.21 L19.02 1.15 L19.40 1.11 L19.76 1.10 L20.12 1.12 L20.49 1.18 L20.86 1.28 L21.21 1.40 L21.52 1.54 L21.75 1.66 L21.92 1.80 L22.10 2.01 L22.28 2.27 L22.44 2.55 L22.60 2.82 L22.72 3.03 Z"/><circle cx="23.2" cy="4.4" r="2.35"/><circle cx="2.6" cy="40.1" r="2.35"/><rect x="7.6" y="13.1" width="14.6" height="1.8"/></g>
<g transform="translate(1154.60 535.40) scale(0.9768 0.9909)" fill="#000"><path d="M24.08 2.17 L23.97 2.01 L23.82 1.75 L23.62 1.41 L23.37 1.04 L23.05 0.66 L22.65 0.34 L22.22 0.10 L21.77 -0.09 L21.30 -0.24 L20.81 -0.36 L20.32 -0.45 L19.84 -0.50 L19.37 -0.52 L18.88 -0.52 L18.37 -0.48 L17.85 -0.39 L17.32 -0.24 L16.81 -0.01 L16.35 0.25 L15.91 0.57 L15.47 0.94 L15.06 1.40 L14.68 1.92 L14.34 2.54 L14.04 3.24 L13.78 3.99 L13.56 4.79 L13.36 5.61 L13.18 6.45 L13.01 7.29 L12.87 8.16 L12.75 9.03 L12.65 9.91 L12.55 10.81 L12.44 11.76 L12.31 12.80 L12.16 13.97 L11.99 15.27 L11.81 16.63 L11.62 18.02 L11.42 19.40 L11.22 20.72 L11.02 22.00 L10.81 23.27 L10.60 24.53 L10.38 25.75 L10.14 26.94 L9.90 28.09 L9.63 29.21 L9.35 30.31 L9.04 31.40 L8.73 32.47 L8.43 33.50 L8.14 34.49 L7.86 35.44 L7.60 36.35 L7.34 37.23 L7.08 38.05 L6.83 38.80 L6.57 39.48 L6.31 40.11 L6.05 40.69 L5.79 41.20 L5.54 41.63 L5.29 41.98 L5.08 42.23 L4.90 42.37 L4.71 42.45 L4.51 42.48 L4.27 42.48 L4.01 42.45 L3.79 42.42 L3.63 42.38 L3.45 42.29 L3.24 42.15 L3.03 41.99 L2.82 41.83 L2.66 41.71 L1.74 42.89 L1.87 43.00 L2.05 43.16 L2.31 43.38 L2.62 43.62 L3.00 43.83 L3.41 43.98 L3.79 44.05 L4.18 44.09 L4.62 44.09 L5.11 44.03 L5.62 43.86 L6.12 43.57 L6.57 43.20 L7.00 42.78 L7.41 42.29 L7.82 41.75 L8.22 41.16 L8.63 40.52 L9.04 39.81 L9.45 39.04 L9.86 38.22 L10.27 37.36 L10.67 36.45 L11.06 35.51 L11.45 34.53 L11.84 33.50 L12.23 32.41 L12.61 31.28 L12.97 30.11 L13.30 28.91 L13.60 27.69 L13.87 26.44 L14.12 25.16 L14.34 23.87 L14.56 22.58 L14.78 21.28 L14.99 19.94 L15.20 18.53 L15.41 17.12 L15.59 15.73 L15.75 14.42 L15.89 13.20 L15.99 12.10 L16.04 11.08 L16.08 10.16 L16.11 9.30 L16.14 8.50 L16.19 7.71 L16.25 6.88 L16.31 6.07 L16.38 5.30 L16.45 4.59 L16.55 3.98 L16.66 3.46 L16.80 3.04 L16.95 2.67 L17.13 2.36 L17.32 2.08 L17.55 1.83 L17.79 1.61 L18.04 1.44 L18.33 1.31 L18.66 1.21 L19.02 1.15 L19.40 1.11 L19.76 1.10 L20.12 1.12 L20.49 1.18 L20.86 1.28 L21.21 1.40 L21.52 1.54 L21.75 1.66 L21.92 1.80 L22.10 2.01 L22.28 2.27 L22.44 2.55 L22.60 2.82 L22.72 3.03 Z"/><circle cx="23.2" cy="4.4" r="2.35"/><circle cx="2.6" cy="40.1" r="2.35"/><rect x="7.6" y="13.1" width="14.6" height="1.8"/></g>
<g transform="translate(1205.30 535.40) scale(0.9807 0.9909)" fill="#000"><path d="M24.08 2.17 L23.97 2.01 L23.82 1.75 L23.62 1.41 L23.37 1.04 L23.05 0.66 L22.65 0.34 L22.22 0.10 L21.77 -0.09 L21.30 -0.24 L20.81 -0.36 L20.32 -0.45 L19.84 -0.50 L19.37 -0.52 L18.88 -0.52 L18.37 -0.48 L17.85 -0.39 L17.32 -0.24 L16.81 -0.01 L16.35 0.25 L15.91 0.57 L15.47 0.94 L15.06 1.40 L14.68 1.92 L14.34 2.54 L14.04 3.24 L13.78 3.99 L13.56 4.79 L13.36 5.61 L13.18 6.45 L13.01 7.29 L12.87 8.16 L12.75 9.03 L12.65 9.91 L12.55 10.81 L12.44 11.76 L12.31 12.80 L12.16 13.97 L11.99 15.27 L11.81 16.63 L11.62 18.02 L11.42 19.40 L11.22 20.72 L11.02 22.00 L10.81 23.27 L10.60 24.53 L10.38 25.75 L10.14 26.94 L9.90 28.09 L9.63 29.21 L9.35 30.31 L9.04 31.40 L8.73 32.47 L8.43 33.50 L8.14 34.49 L7.86 35.44 L7.60 36.35 L7.34 37.23 L7.08 38.05 L6.83 38.80 L6.57 39.48 L6.31 40.11 L6.05 40.69 L5.79 41.20 L5.54 41.63 L5.29 41.98 L5.08 42.23 L4.90 42.37 L4.71 42.45 L4.51 42.48 L4.27 42.48 L4.01 42.45 L3.79 42.42 L3.63 42.38 L3.45 42.29 L3.24 42.15 L3.03 41.99 L2.82 41.83 L2.66 41.71 L1.74 42.89 L1.87 43.00 L2.05 43.16 L2.31 43.38 L2.62 43.62 L3.00 43.83 L3.41 43.98 L3.79 44.05 L4.18 44.09 L4.62 44.09 L5.11 44.03 L5.62 43.86 L6.12 43.57 L6.57 43.20 L7.00 42.78 L7.41 42.29 L7.82 41.75 L8.22 41.16 L8.63 40.52 L9.04 39.81 L9.45 39.04 L9.86 38.22 L10.27 37.36 L10.67 36.45 L11.06 35.51 L11.45 34.53 L11.84 33.50 L12.23 32.41 L12.61 31.28 L12.97 30.11 L13.30 28.91 L13.60 27.69 L13.87 26.44 L14.12 25.16 L14.34 23.87 L14.56 22.58 L14.78 21.28 L14.99 19.94 L15.20 18.53 L15.41 17.12 L15.59 15.73 L15.75 14.42 L15.89 13.20 L15.99 12.10 L16.04 11.08 L16.08 10.16 L16.11 9.30 L16.14 8.50 L16.19 7.71 L16.25 6.88 L16.31 6.07 L16.38 5.30 L16.45 4.59 L16.55 3.98 L16.66 3.46 L16.80 3.04 L16.95 2.67 L17.13 2.36 L17.32 2.08 L17.55 1.83 L17.79 1.61 L18.04 1.44 L18.33 1.31 L18.66 1.21 L19.02 1.15 L19.40 1.11 L19.76 1.10 L20.12 1.12 L20.49 1.18 L20.86 1.28 L21.21 1.40 L21.52 1.54 L21.75 1.66 L21.92 1.80 L22.10 2.01 L22.28 2.27 L22.44 2.55 L22.60 2.82 L22.72 3.03 Z"/><circle cx="23.2" cy="4.4" r="2.35"/><circle cx="2.6" cy="40.1" r="2.35"/><rect x="7.6" y="13.1" width="14.6" height="1.8"/></g>
<g transform="translate(1256.00 535.40) scale(0.9768 0.9909)" fill="#000"><path d="M24.08 2.17 L23.97 2.01 L23.82 1.75 L23.62 1.41 L23.37 1.04 L23.05 0.66 L22.65 0.34 L22.22 0.10 L21.77 -0.09 L21.30 -0.24 L20.81 -0.36 L20.32 -0.45 L19.84 -0.50 L19.37 -0.52 L18.88 -0.52 L18.37 -0.48 L17.85 -0.39 L17.32 -0.24 L16.81 -0.01 L16.35 0.25 L15.91 0.57 L15.47 0.94 L15.06 1.40 L14.68 1.92 L14.34 2.54 L14.04 3.24 L13.78 3.99 L13.56 4.79 L13.36 5.61 L13.18 6.45 L13.01 7.29 L12.87 8.16 L12.75 9.03 L12.65 9.91 L12.55 10.81 L12.44 11.76 L12.31 12.80 L12.16 13.97 L11.99 15.27 L11.81 16.63 L11.62 18.02 L11.42 19.40 L11.22 20.72 L11.02 22.00 L10.81 23.27 L10.60 24.53 L10.38 25.75 L10.14 26.94 L9.90 28.09 L9.63 29.21 L9.35 30.31 L9.04 31.40 L8.73 32.47 L8.43 33.50 L8.14 34.49 L7.86 35.44 L7.60 36.35 L7.34 37.23 L7.08 38.05 L6.83 38.80 L6.57 39.48 L6.31 40.11 L6.05 40.69 L5.79 41.20 L5.54 41.63 L5.29 41.98 L5.08 42.23 L4.90 42.37 L4.71 42.45 L4.51 42.48 L4.27 42.48 L4.01 42.45 L3.79 42.42 L3.63 42.38 L3.45 42.29 L3.24 42.15 L3.03 41.99 L2.82 41.83 L2.66 41.71 L1.74 42.89 L1.87 43.00 L2.05 43.16 L2.31 43.38 L2.62 43.62 L3.00 43.83 L3.41 43.98 L3.79 44.05 L4.18 44.09 L4.62 44.09 L5.11 44.03 L5.62 43.86 L6.12 43.57 L6.57 43.20 L7.00 42.78 L7.41 42.29 L7.82 41.75 L8.22 41.16 L8.63 40.52 L9.04 39.81 L9.45 39.04 L9.86 38.22 L10.27 37.36 L10.67 36.45 L11.06 35.51 L11.45 34.53 L11.84 33.50 L12.23 32.41 L12.61 31.28 L12.97 30.11 L13.30 28.91 L13.60 27.69 L13.87 26.44 L14.12 25.16 L14.34 23.87 L14.56 22.58 L14.78 21.28 L14.99 19.94 L15.20 18.53 L15.41 17.12 L15.59 15.73 L15.75 14.42 L15.89 13.20 L15.99 12.10 L16.04 11.08 L16.08 10.16 L16.11 9.30 L16.14 8.50 L16.19 7.71 L16.25 6.88 L16.31 6.07 L16.38 5.30 L16.45 4.59 L16.55 3.98 L16.66 3.46 L16.80 3.04 L16.95 2.67 L17.13 2.36 L17.32 2.08 L17.55 1.83 L17.79 1.61 L18.04 1.44 L18.33 1.31 L18.66 1.21 L19.02 1.15 L19.40 1.11 L19.76 1.10 L20.12 1.12 L20.49 1.18 L20.86 1.28 L21.21 1.40 L21.52 1.54 L21.75 1.66 L21.92 1.80 L22.10 2.01 L22.28 2.27 L22.44 2.55 L22.60 2.82 L22.72 3.03 Z"/><circle cx="23.2" cy="4.4" r="2.35"/><circle cx="2.6" cy="40.1" r="2.35"/><rect x="7.6" y="13.1" width="14.6" height="1.8"/></g>
<g transform="translate(1308.00 535.40) scale(0.9923 0.9909)" fill="#000"><path d="M24.08 2.17 L23.97 2.01 L23.82 1.75 L23.62 1.41 L23.37 1.04 L23.05 0.66 L22.65 0.34 L22.22 0.10 L21.77 -0.09 L21.30 -0.24 L20.81 -0.36 L20.32 -0.45 L19.84 -0.50 L19.37 -0.52 L18.88 -0.52 L18.37 -0.48 L17.85 -0.39 L17.32 -0.24 L16.81 -0.01 L16.35 0.25 L15.91 0.57 L15.47 0.94 L15.06 1.40 L14.68 1.92 L14.34 2.54 L14.04 3.24 L13.78 3.99 L13.56 4.79 L13.36 5.61 L13.18 6.45 L13.01 7.29 L12.87 8.16 L12.75 9.03 L12.65 9.91 L12.55 10.81 L12.44 11.76 L12.31 12.80 L12.16 13.97 L11.99 15.27 L11.81 16.63 L11.62 18.02 L11.42 19.40 L11.22 20.72 L11.02 22.00 L10.81 23.27 L10.60 24.53 L10.38 25.75 L10.14 26.94 L9.90 28.09 L9.63 29.21 L9.35 30.31 L9.04 31.40 L8.73 32.47 L8.43 33.50 L8.14 34.49 L7.86 35.44 L7.60 36.35 L7.34 37.23 L7.08 38.05 L6.83 38.80 L6.57 39.48 L6.31 40.11 L6.05 40.69 L5.79 41.20 L5.54 41.63 L5.29 41.98 L5.08 42.23 L4.90 42.37 L4.71 42.45 L4.51 42.48 L4.27 42.48 L4.01 42.45 L3.79 42.42 L3.63 42.38 L3.45 42.29 L3.24 42.15 L3.03 41.99 L2.82 41.83 L2.66 41.71 L1.74 42.89 L1.87 43.00 L2.05 43.16 L2.31 43.38 L2.62 43.62 L3.00 43.83 L3.41 43.98 L3.79 44.05 L4.18 44.09 L4.62 44.09 L5.11 44.03 L5.62 43.86 L6.12 43.57 L6.57 43.20 L7.00 42.78 L7.41 42.29 L7.82 41.75 L8.22 41.16 L8.63 40.52 L9.04 39.81 L9.45 39.04 L9.86 38.22 L10.27 37.36 L10.67 36.45 L11.06 35.51 L11.45 34.53 L11.84 33.50 L12.23 32.41 L12.61 31.28 L12.97 30.11 L13.30 28.91 L13.60 27.69 L13.87 26.44 L14.12 25.16 L14.34 23.87 L14.56 22.58 L14.78 21.28 L14.99 19.94 L15.20 18.53 L15.41 17.12 L15.59 15.73 L15.75 14.42 L15.89 13.20 L15.99 12.10 L16.04 11.08 L16.08 10.16 L16.11 9.30 L16.14 8.50 L16.19 7.71 L16.25 6.88 L16.31 6.07 L16.38 5.30 L16.45 4.59 L16.55 3.98 L16.66 3.46 L16.80 3.04 L16.95 2.67 L17.13 2.36 L17.32 2.08 L17.55 1.83 L17.79 1.61 L18.04 1.44 L18.33 1.31 L18.66 1.21 L19.02 1.15 L19.40 1.11 L19.76 1.10 L20.12 1.12 L20.49 1.18 L20.86 1.28 L21.21 1.40 L21.52 1.54 L21.75 1.66 L21.92 1.80 L22.10 2.01 L22.28 2.27 L22.44 2.55 L22.60 2.82 L22.72 3.03 Z"/><circle cx="23.2" cy="4.4" r="2.35"/><circle cx="2.6" cy="40.1" r="2.35"/><rect x="7.6" y="13.1" width="14.6" height="1.8"/></g>
</svg>
</body></html>
